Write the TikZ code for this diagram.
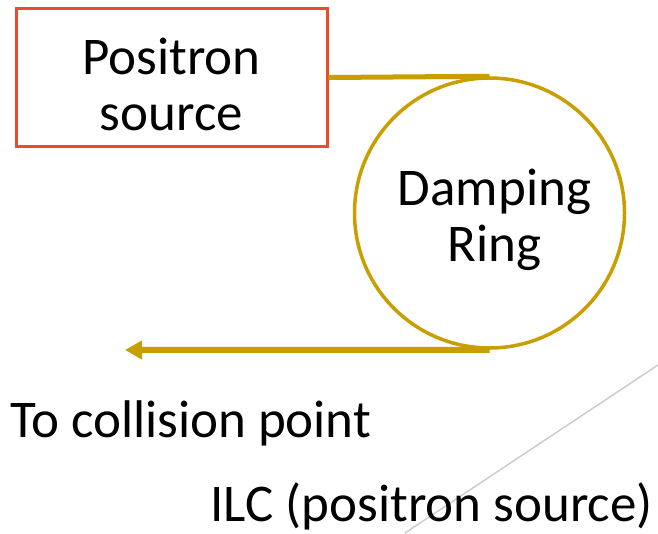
\documentclass[tikz,border=0pt]{standalone}
\usepackage{fontspec}
\setmainfont{Carlito}
\usepackage{tikz, xcolor}
\usetikzlibrary{arrows.meta}
\definecolor{boxred}{RGB}{232,76,40}
\definecolor{ringgold}{RGB}{200,158,0}
\newcommand{\twolines}[3]{\raisebox{#1}[0pt][0pt]{\begin{tabular}{@{}c@{}}#2\\#3\end{tabular}}}
\tikzset{>=stealth,
  label/.style={font=\fontsize{53}{56}\selectfont, inner sep=0pt},
  srcbox/.style={draw=boxred, line width=3pt, minimum width=311pt, minimum height=138pt, label},
  ringnode/.style={draw=ringgold, line width=3.5pt, circle, minimum size=270pt, label},
  beam/.style={ringgold, line width=5pt}
}
\begin{document}
\begin{tikzpicture}[x=1pt,y=-1pt]
\useasboundingbox (0,0) rectangle (658,533);
\draw[color=black!20, line width=1.5pt] (405,533) -- (658,365);
\node[srcbox] (src) at (171.5,77.5) {\twolines{-20pt}{Positron}{source}};
\node[ringnode] (ring) at (489.5,213) {\hspace{10pt}\twolines{-16pt}{Damping}{Ring}};
\coordinate (out) at (125,350);
\draw[beam] (src.east) -- (ring.north);
\draw[beam, line width=6pt, -{Triangle[length=17pt,width=18pt]}] (ring.south) -- (out);
\node[label, anchor=base west] (dest) at (10,437) {To collision point};
\node[label, anchor=base east] (title) at (653,521) {ILC (positron source)};
\end{tikzpicture}
\end{document}
